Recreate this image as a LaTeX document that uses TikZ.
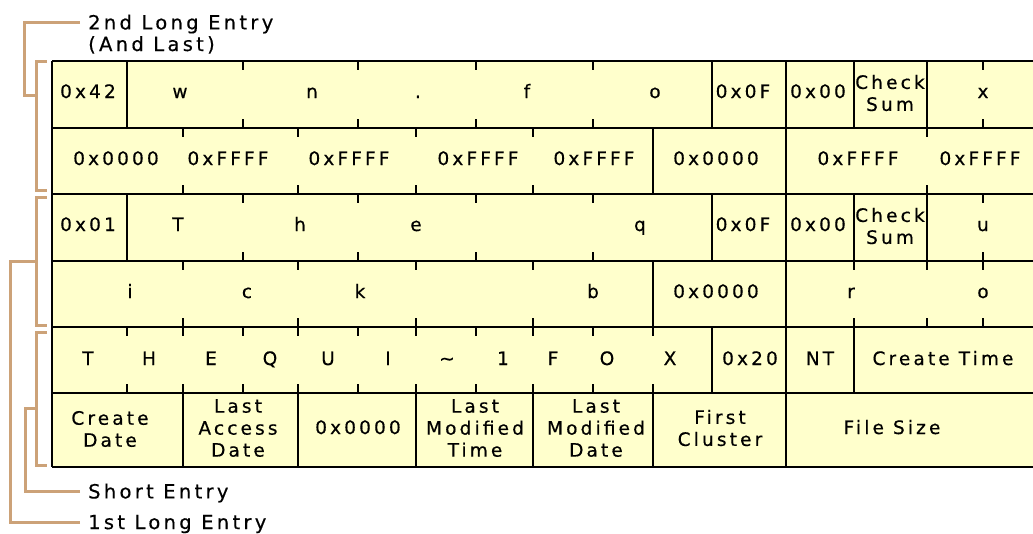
\documentclass[tikz,border=0pt]{standalone}
\usepackage{fontspec}
\usepackage{tikz}
\newfontfamily\cellfont[LetterSpace=17, FakeBold=0.5]{DejaVu Sans}
\definecolor{entryfill}{RGB}{255,255,204}
\definecolor{bracketcol}{RGB}{204,162,120}

\begin{document}
\begin{tikzpicture}[x=1pt, y=-1pt,
    txt/.style={font=\cellfont\fontsize{18.5}{22}\selectfont, inner sep=0pt},
    onecell/.style={txt, anchor=base},
    twocell/.style={txt, align=center},
    lbl/.style={txt, font=\cellfont\fontsize{19.5}{22}\selectfont, anchor=west, inner xsep=8pt, text depth=0pt},
    tableline/.style={line width=2pt},
    byteTick/.style={line width=2pt},
    brk/.style={draw=bracketcol, line width=3pt}]

    \useasboundingbox (0,0) rectangle (1033,533);

    % table body
    \fill[entryfill] (52,61) rectangle (1033,467);
    \foreach \y in {61,128,194,261,327,393,467}
        \draw[tableline] (52,\y) -- (1033,\y);
    \draw[tableline] (52,61) -- (52,467);

    % field borders, row by row
    \foreach \ya/\yb/\xs in {61/128/{127,712,786,854,927}, 128/194/{653,786},
                             194/261/{127,712,786,854,927}, 261/327/{653,786},
                             327/393/{712,786,854}, 393/467/{183,298,416,533,653,786}}
        \foreach \x in \xs
            \draw[tableline] (\x,\ya) -- (\x,\yb);

    % byte ticks
    \foreach \ya/\yb/\xs in {61/128/{243,358,476,593,983}, 128/194/{183,298,416,533,927},
                             194/261/{243,358,476,593,983}, 261/327/{183,298,416,533,854,927,983},
                             327/393/{127,183,243,298,358,416,476,533,593,653}}
        \foreach \x in \xs {
            \draw[byteTick] (\x,\ya) -- ++(0,9);
            \draw[byteTick] (\x,\yb) -- ++(0,-9);
        }

    % 2nd long entry
    \foreach \x/\t [count=\i] in {88/0x42, 180/w, 312/n, 418/., 527/f, 655/o,
                                  743/0x0F, 818/0x00, 983/x}
        \node[onecell] (lfnb-\i) at (\x,98) {\t};
    \node[twocell] (lfnb-sum) at (890,93) {Check\\Sum};
    \foreach \x/\t [count=\i] in {116/0x0000, 228/0xFFFF, 349/0xFFFF, 478/0xFFFF,
                                  594/0xFFFF, 716/0x0000, 858/0xFFFF, 980/0xFFFF}
        \node[onecell] (lfnb2-\i) at (\x,165) {\t};

    % 1st long entry
    \foreach \x/\t [count=\i] in {88/0x01, 178/T, 300/h, 416/e, 640/q,
                                  743/0x0F, 818/0x00, 983/u}
        \node[onecell] (lfna-\i) at (\x,231) {\t};
    \node[twocell] (lfna-sum) at (890,226) {Check\\Sum};
    \foreach \x/\t [count=\i] in {130/i, 247/c, 360/k, 593/b, 716/0x0000, 851/r, 983/o}
        \node[onecell] (lfna2-\i) at (\x,298) {\t};

    % short entry
    \foreach \x/\t [count=\i] in {88/T, 149/H, 211/E, 270/Q, 328/U, 388/I,
                                  447/\textasciitilde, 503/1, 553/F, 607/O, 670/X,
                                  750/0x20, 820/NT, 943/Create Time}
        \node[onecell] (sfn-\i) at (\x,365) {\t};
    \node[twocell] (cdate) at (110,429) {Create\\Date};
    \node[twocell] (adate) at (238,428) {Last\\Access\\Date};
    \node[onecell] (resv) at (358,434) {0x0000};
    \node[twocell] (mtime) at (475,428) {Last\\Modified\\Time};
    \node[twocell] (mdate) at (596,428) {Last\\Modified\\Date};
    \node[twocell] (clus) at (720,428) {First\\Cluster};
    \node[onecell] (fsize) at (892,434) {File Size};

    % labels and brackets
    \node[lbl] (lbl2nd) at (80,22) {2nd Long Entry};
    \node[lbl, anchor=base west] (lbl2ndb) at (80,51) {(And Last)};
    \node[lbl] (lblShort) at (80,491) {Short Entry};
    \node[lbl] (lbl1st) at (80,522) {1st Long Entry};

    \foreach \ya/\yb in {61/190, 197/325, 332/465}
        \draw[brk] (47,\ya) -| (36,\yb) -- (47,\yb);

    \coordinate (j2nd) at (36,95);
    \coordinate (j1st) at (36,261);
    \coordinate (jshort) at (36,408);
    \draw[brk] (lbl2nd.west) -| ([xshift=-12pt]j2nd) -- (j2nd);
    \draw[brk] (lbl1st.west) -| ([xshift=-26pt]j1st) -- (j1st);
    \draw[brk] (lblShort.west) -| ([xshift=-11pt]jshort) -- (jshort);
\end{tikzpicture}
\end{document}
